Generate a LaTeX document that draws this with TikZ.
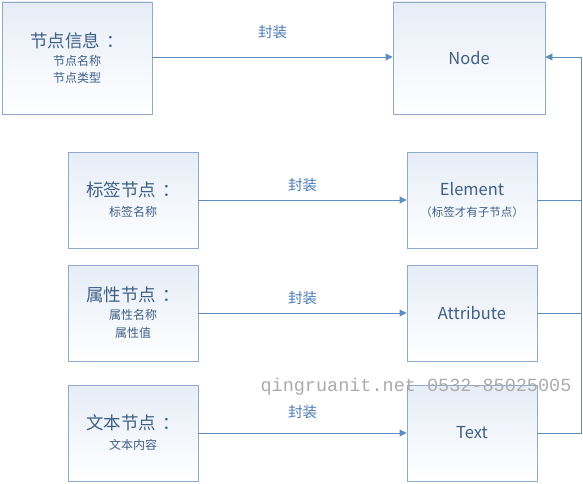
\documentclass[tikz,border=0pt]{standalone}
\usepackage{fontspec}
\setmainfont{Noto Sans CJK SC}
\newfontfamily\wmfont{Liberation Mono}
\usetikzlibrary{arrows.meta}
\definecolor{boxline}{HTML}{8FAACB}
\definecolor{boxfill}{HTML}{E6EDF7}
\definecolor{conn}{HTML}{5B8DC2}
\definecolor{txt}{HTML}{3F5F86}
\definecolor{lbl}{HTML}{4A7AB5}
\definecolor{wm}{HTML}{ABABAB}
\newcommand\bigtxt{\fontsize{17.5}{19}\selectfont}
\newcommand\smalltxt{\fontsize{12}{17}\selectfont}
\newcommand\midtxt{\fontsize{16.5}{19}\selectfont}
\newcommand\colonsp{\hspace{0.35em}}
\tikzset{
  box/.style={draw=boxline, line width=0.9pt, shading=axis, shading angle=135,
    top color=boxfill, bottom color=white, align=center, text=txt, inner sep=0pt},
  srcbox/.style={box, minimum width=130pt, minimum height=96pt},
  tgtbox/.style={box, minimum width=130pt, minimum height=96pt},
  conn/.style={draw=conn, line width=0.9pt},
  arr/.style={conn, -{Triangle[length=7pt,width=7pt]}},
  lab/.style={text=lbl, font=\fontsize{14.5}{16}\selectfont}
}
\begin{document}
\begin{tikzpicture}[x=1pt,y=-1pt]
\useasboundingbox (0,0) rectangle (583,484);
% top row
\node[box, minimum width=150pt, minimum height=112pt] (info) at (77,58)
  {\bigtxt 节点信息\colonsp：\\[6pt] \smalltxt 节点名称\\[5pt] \smalltxt 节点类型};
\node[box, minimum width=152pt, minimum height=112pt] (node) at (469,58)
  {\midtxt Node};
% element row
\node[srcbox] (tag) at (133,200)
  {\bigtxt 标签节点\colonsp：\\[8pt] \smalltxt 标签名称};
\node[tgtbox] (elem) at (472,200)
  {\midtxt Element\\[9pt] \fontsize{11.5}{13}\selectfont （标签才有子节点）};
% attribute row
\node[srcbox] (attsrc) at (133,313)
  {\bigtxt 属性节点\colonsp：\\[6pt] \smalltxt 属性名称\\[6pt] \smalltxt 属性值};
\node[tgtbox] (attr) at (472,313)
  {\midtxt Attribute};
% text row
\node[srcbox] (txtsrc) at (133,433)
  {\bigtxt 文本节点\colonsp：\\[8pt] \smalltxt 文本内容};
\node[tgtbox] (text) at (472,433)
  {\midtxt Text};
% connectors
\draw[arr] (info.east |- 0,57) -- node[lab, above=14pt] (l1) {封装} (node.west |- 0,57);
\draw[arr] (tag.east) -- node[lab, above=4pt] (l2) {封装} (elem.west);
\draw[arr] (attsrc.east) -- node[lab, above=4pt] (l3) {封装} (attr.west);
\draw[arr] (txtsrc.east) -- node[lab, above=10pt] (l4) {封装} (text.west);
\coordinate (rt) at (581,433);
\coordinate (rn) at (581,57);
\draw[conn] (elem.east) -- (elem.east -| rt);
\draw[conn] (attr.east) -- (attr.east -| rt);
\draw[arr] (text.east) -- (rt) -- (rn) -- (node.east |- rn);
% watermark
\node[text=wm, font=\wmfont\fontsize{18.5}{20}\selectfont, anchor=center] (wmk) at (416,387) {qingruanit.net 0532-85025005};
\end{tikzpicture}
\end{document}
